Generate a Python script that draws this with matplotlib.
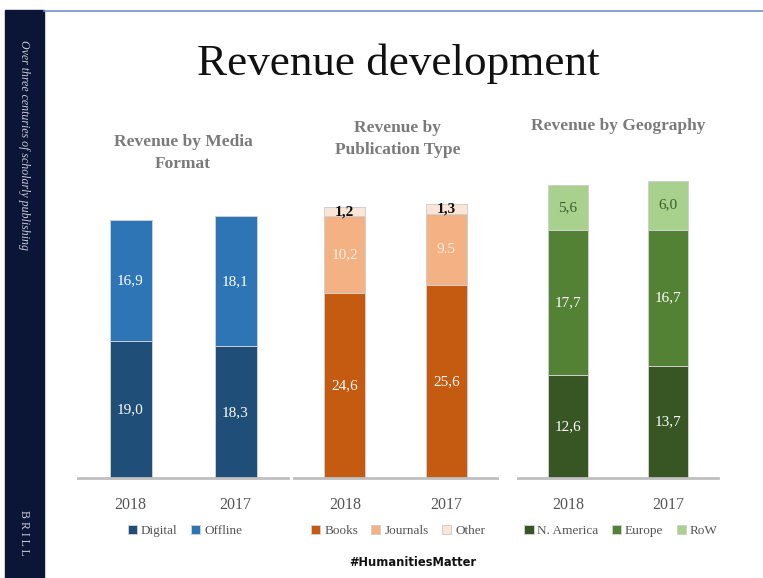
import matplotlib
matplotlib.use("Agg")
import matplotlib.pyplot as plt
from matplotlib.patches import Rectangle
from matplotlib.lines import Line2D

# ---------------- data ----------------
years = ["2018", "2017"]

media_series = ["Digital", "Offline"]
media_values = [[19.0, 18.3], [16.9, 18.1]]
media_labels = [["19,0", "18,3"], ["16,9", "18,1"]]

pub_series = ["Books", "Journals", "Other"]
pub_values = [[24.6, 25.6], [10.2, 9.5], [1.2, 1.3]]
pub_labels = [["24,6", "25,6"], ["10,2", "9.5"], ["1,2", "1,3"]]

geo_series = ["N. America", "Europe", "RoW"]
geo_values = [[12.6, 13.7], [17.7, 16.7], [5.6, 6.0]]
geo_labels = [["12,6", "13,7"], ["17,7", "16,7"], ["5,6", "6,0"]]

# ---------------- style ----------------
W, H = 763, 578
fig = plt.figure(figsize=(W / 100, H / 100), dpi=100)
SERIF = ["Liberation Serif", "DejaVu Serif"]


def fx(x):
    return x / W


def fy(y):
    return 1 - y / H


# sidebar and top line
fig.patches.append(Rectangle((fx(5), 0), fx(44) - fx(5), fy(10), transform=fig.transFigure,
                             color="#0b1535", zorder=0))
fig.lines.append(Line2D([fx(44), fx(763)], [fy(10.5), fy(10.5)], transform=fig.transFigure,
                        color="#6f8fcf", lw=1.2))
fig.text(fx(24), fy(40), "Over three centuries of scholarly publishing", rotation=270,
         ha="center", va="top", color="#c8ccd8", fontsize=8.6, style="italic", family=SERIF)
fig.text(fx(24), fy(510), "B R I L L", rotation=270, ha="center", va="top",
         color="#c8ccd8", fontsize=8.5, family=SERIF)

fig.text(fx(398), fy(64), "Revenue development", ha="center", va="center",
         fontsize=32.5, family=SERIF, color="#111111")
fig.text(fx(413), fy(563), "#HumanitiesMatter", ha="center", va="center",
         fontsize=8.3, fontweight="bold", family=["DejaVu Sans"], color="#111111")

panels = [
    dict(x0=78, x1=288, scale=7.19, title="Revenue by Media\nFormat", ty=153, tx=183,
         series=media_series, values=media_values, labels=media_labels,
         colors=["#1f4e79", "#2e75b6"], tcolors=["white", "white"], tweights=["normal", "normal"],
         lx=185),
    dict(x0=294, x1=497, scale=7.52, title="Revenue by\nPublication Type", ty=139, tx=398,
         series=pub_series, values=pub_values, labels=pub_labels,
         colors=["#c55a11", "#f4b183", "#fbe5d6"], tcolors=["white", "#fdeee3", "#111111"],
         tweights=["normal", "normal", "bold"], lx=398),
    dict(x0=518, x1=718, scale=8.17, title="Revenue by Geography", ty=126, tx=618,
         series=geo_series, values=geo_values, labels=geo_labels,
         colors=["#375623", "#548235", "#a9d18e"], tcolors=["white", "white", "#3b5e29"],
         tweights=["normal", "normal", "normal"], lx=621),
]

BASE = 478
TOP = 170
for p in panels:
    ax = fig.add_axes([fx(p["x0"]), fy(BASE), fx(p["x1"]) - fx(p["x0"]), (BASE - TOP) / H])
    ax.set_xlim(-0.5, 1.5)
    ax.set_ylim(0, (BASE - TOP) / p["scale"])
    xs = [0, 1]
    bottoms = [0.0, 0.0]
    for vals, labs, name, col, tc, tw in zip(p["values"], p["labels"], p["series"],
                                              p["colors"], p["tcolors"], p["tweights"]):
        ax.bar(xs, vals, width=0.4, bottom=bottoms, color=col, edgecolor="#cfcfcf",
               linewidth=0.7, label=name, zorder=2)
        for i in range(2):
            ax.text(xs[i], bottoms[i] + vals[i] / 2, labs[i], ha="center", va="center",
                    color=tc, fontsize=11, fontweight=tw, family=SERIF, zorder=3)
        bottoms = [b + v for b, v in zip(bottoms, vals)]
    for s in ["top", "right", "left"]:
        ax.spines[s].set_visible(False)
    ax.spines["bottom"].set_color("#bfbfbf")
    ax.spines["bottom"].set_linewidth(2)
    ax.set_yticks([])
    ax.set_xticks(xs)
    ax.set_xticklabels(years, family=SERIF, fontsize=11.5, color="#555555")
    ax.tick_params(axis="x", length=0, pad=14)
    ax.patch.set_alpha(0)
    fig.text(fx(p["tx"]), fy(p["ty"]), p["title"], ha="center", va="center", family=SERIF,
             fontsize=12.5, fontweight="bold", color="#7a7a7a", linespacing=1.45)
    fig.legend(*ax.get_legend_handles_labels(), loc="center", ncol=len(p["series"]),
               bbox_to_anchor=(fx(p["lx"]), fy(531)), frameon=False, handlelength=0.7,
               handleheight=0.7, handletextpad=0.3, columnspacing=1.0,
               prop=dict(family=SERIF, size=9.5), labelcolor="#555555")

fig.savefig("out.png", dpi=100)
